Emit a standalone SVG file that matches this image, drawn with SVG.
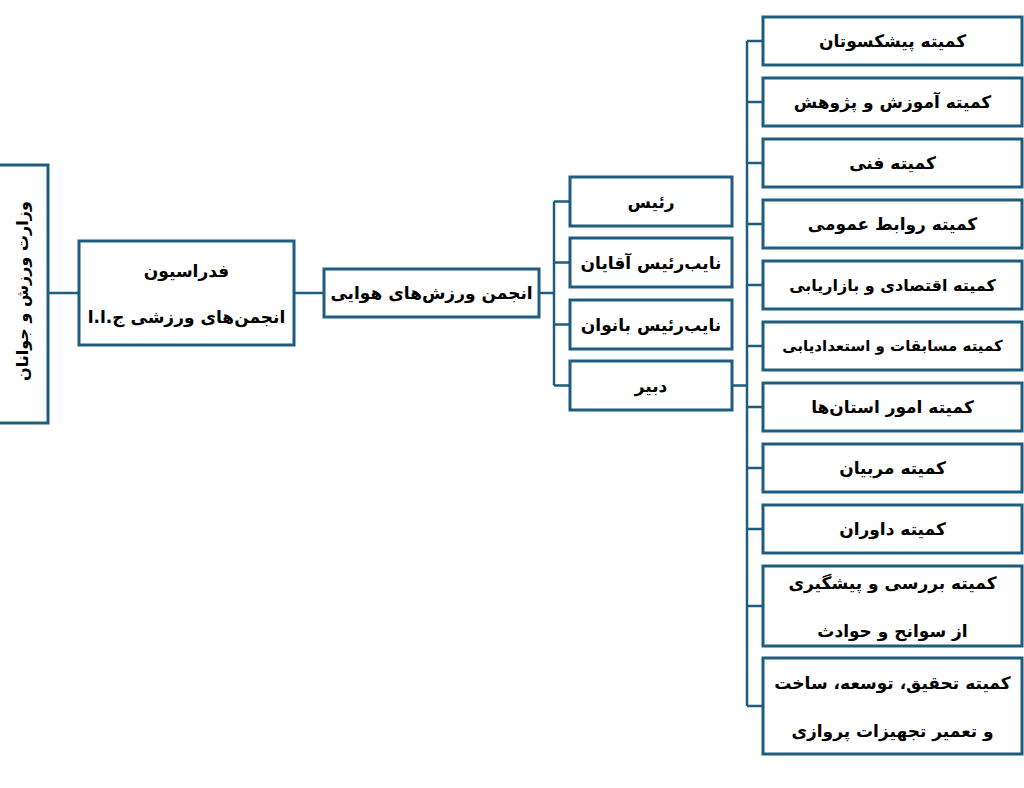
<svg xmlns="http://www.w3.org/2000/svg" width="1024" height="788" viewBox="0 0 1024 788">
<style>
.box{fill:#fff;stroke:#1f5d7e;stroke-width:3}
.ln{fill:none;stroke:#1f5d7e;stroke-width:2.5}
text{font-family:'DejaVu Sans',sans-serif;font-weight:bold;font-size:17px;fill:#000;text-anchor:middle;direction:rtl}
.sm{font-size:15px}
.md{font-size:16px}
</style>
<rect width="1024" height="788" fill="#fff"/>
<g id="connectors">
<path class="ln" d="M48 293H79M294 293H324M539 293H554M554 201.5V385.5M554 201.5H570M554 262.5H570M554 324.5H570M554 385.5H570M732 385.5H747M747 41V706M747 41H763M747 102H763M747 163H763M747 224H763M747 285H763M747 346H763M747 407H763M747 468H763M747 529H763M747 606H763M747 706H763"/>
</g>
<g id="n-ministry"><rect class="box" x="-2" y="165" width="50" height="258"/><text class="md" transform="translate(28 291) rotate(-90)">وزارت ورزش و جوانان</text></g>
<g id="n-federation"><rect class="box" x="79" y="241" width="215" height="104"/><text x="186.5" y="277">فدراسیون</text><text x="186.5" y="323">انجمن&#x200C;های ورزشی ج.ا.ا</text></g>
<g id="n-association"><rect class="box" x="324" y="269" width="215" height="48"/><text x="431.5" y="299">انجمن ورزش&#x200C;های هوایی</text></g>
<g id="n-president"><rect class="box" x="570" y="177" width="162" height="49"/><text x="651" y="208">رئیس</text></g>
<g id="n-vp-men"><rect class="box" x="570" y="238" width="162" height="49"/><text x="651" y="269">نایب&#x200C;رئیس آقایان</text></g>
<g id="n-vp-women"><rect class="box" x="570" y="300" width="162" height="49"/><text x="651" y="331">نایب&#x200C;رئیس بانوان</text></g>
<g id="n-secretary"><rect class="box" x="570" y="361" width="162" height="49"/><text x="651" y="392">دبیر</text></g>
<g id="n-c1"><rect class="box" x="763" y="17" width="259" height="48"/><text x="892.5" y="47">کمیته پیشکسوتان</text></g>
<g id="n-c2"><rect class="box" x="763" y="78" width="259" height="48"/><text x="892.5" y="108">کمیته آموزش و پژوهش</text></g>
<g id="n-c3"><rect class="box" x="763" y="139" width="259" height="48"/><text x="892.5" y="169">کمیته فنی</text></g>
<g id="n-c4"><rect class="box" x="763" y="200" width="259" height="48"/><text x="892.5" y="230">کمیته روابط عمومی</text></g>
<g id="n-c5"><rect class="box" x="763" y="261" width="259" height="48"/><text class="md" x="892.5" y="291">کمیته اقتصادی و بازاریابی</text></g>
<g id="n-c6"><rect class="box" x="763" y="322" width="259" height="48"/><text class="sm" x="892.5" y="351">کمیته مسابقات و استعدادیابی</text></g>
<g id="n-c7"><rect class="box" x="763" y="383" width="259" height="48"/><text x="892.5" y="413">کمیته امور استان&#x200C;ها</text></g>
<g id="n-c8"><rect class="box" x="763" y="444" width="259" height="48"/><text x="892.5" y="474">کمیته مربیان</text></g>
<g id="n-c9"><rect class="box" x="763" y="505" width="259" height="48"/><text x="892.5" y="535">کمیته داوران</text></g>
<g id="n-c10"><rect class="box" x="763" y="566" width="259" height="80"/><text x="892.5" y="589">کمیته بررسی و پیشگیری</text><text x="892.5" y="637">از سوانح و حوادث</text></g>
<g id="n-c11"><rect class="box" x="763" y="658" width="259" height="96"/><text x="892.5" y="689">کمیته تحقیق، توسعه، ساخت</text><text x="892.5" y="737">و تعمیر تجهیزات پروازی</text></g>
</svg>
